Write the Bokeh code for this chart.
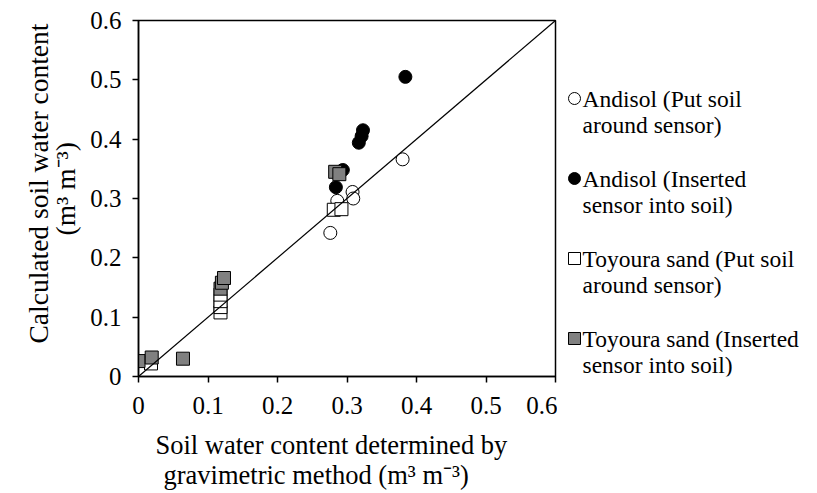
from bokeh.plotting import figure
from bokeh.layouts import row
from bokeh.models import Range1d, FixedTicker, Slope, Title
from bokeh.core.properties import value
from bokeh.embed import file_html
from bokeh.resources import INLINE

# Andisol (Put soil around sensor)
and_put_x = [0.276, 0.284, 0.286, 0.308, 0.309, 0.380]
and_put_y = [0.242, 0.285, 0.296, 0.311, 0.300, 0.366]
# Andisol (Inserted sensor into soil)
and_ins_x = [0.284, 0.294, 0.317, 0.321, 0.323, 0.384]
and_ins_y = [0.319, 0.348, 0.394, 0.405, 0.415, 0.505]
# Toyoura sand (Put soil around sensor)
toy_put_x = [0.018, 0.118, 0.118, 0.118, 0.118, 0.281, 0.292]
toy_put_y = [0.022, 0.108, 0.117, 0.127, 0.138, 0.281, 0.282]
# Toyoura sand (Inserted sensor into soil)
toy_ins_x = [0.000, 0.019, 0.064, 0.118, 0.120, 0.123, 0.283, 0.289]
toy_ins_y = [0.026, 0.032, 0.030, 0.148, 0.158, 0.166, 0.345, 0.341]

ticks = [0, 0.1, 0.2, 0.3, 0.4, 0.5, 0.6]
tick_labels = {0: "0", 0.1: "0.1", 0.2: "0.2", 0.3: "0.3", 0.4: "0.4", 0.5: "0.5", 0.6: "0.6"}

x_label_lines = ["Soil water content determined by", "gravimetric method (m\u00b3 m\u207b\u00b3)"]
y_label_lines = ["Calculated soil water content", "(m\u00b3 m\u207b\u00b3)"]

legend_line1 = ["Andisol (Put soil", "Andisol (Inserted",
                "Toyoura sand (Put soil", "Toyoura sand (Inserted"]
legend_line2 = ["around sensor)", "sensor into soil)",
                "around sensor)", "sensor into soil)"]

FONT = "Liberation Serif"
H = 490
TOP = 20
FH = 356
LEFT = 138
FW = 417
MAIN_W = LEFT + FW + 2
LEG_W = 801 - MAIN_W

p = figure(width=MAIN_W, height=H, output_backend="svg", toolbar_location=None,
           x_range=Range1d(0, 0.6), y_range=Range1d(0, 0.6),
           frame_width=FW, frame_height=FH,
           min_border_left=LEFT, min_border_top=TOP, min_border_right=2,
           min_border_bottom=H - TOP - FH)
p.background_fill_color = "white"
p.border_fill_color = "white"
p.outline_line_color = "black"
p.outline_line_width = 1.5
p.grid.visible = False

for ax in (p.xaxis[0], p.yaxis[0]):
    ax.ticker = FixedTicker(ticks=ticks)
    ax.major_label_overrides = tick_labels
    ax.minor_tick_line_color = None
    ax.major_tick_in = 0
    ax.major_tick_out = 6
    ax.axis_line_width = 1.5
    ax.major_tick_line_width = 1.5
    ax.major_label_text_font = FONT
    ax.major_label_text_font_size = "25px"
    ax.major_label_text_color = "black"

p.xaxis.major_label_standoff = 14
p.yaxis.major_label_standoff = 11

x_style = dict(text_font=FONT, text_font_size="26.5px", text_color="black",
               text_font_style="normal", align="left")
y_style = dict(text_font=FONT, text_font_size="27.5px", text_color="black",
               text_font_style="normal", align="left", vertical_align="middle")
# axis titles (as Title objects so their position along the axis can be set)
p.add_layout(Title(text=x_label_lines[0], offset=17, standoff=22, **x_style), "below")
p.add_layout(Title(text=x_label_lines[1], offset=25, standoff=-39, **x_style), "below")
p.add_layout(Title(text=y_label_lines[1], offset=141, standoff=12, **y_style), "left")
p.add_layout(Title(text=y_label_lines[0], offset=33, standoff=-24, **y_style), "left")

p.add_layout(Slope(gradient=1, y_intercept=0, line_color="black", line_width=1.2))

p.scatter(and_put_x, and_put_y, marker="circle", size=13, fill_color="white",
          line_color="black", line_width=1)
p.scatter(and_ins_x, and_ins_y, marker="circle", size=13, fill_color="black",
          line_color="black", line_width=1)
p.scatter(toy_put_x, toy_put_y, marker="square", size=13, fill_color="white",
          line_color="black", line_width=1)
p.scatter(toy_ins_x, toy_ins_y, marker="square", size=13, fill_color="#808080",
          line_color="black", line_width=1)

# legend panel: pixel coordinates aligned with the page (y downward)
lg = figure(width=LEG_W, height=H, output_backend="svg", toolbar_location=None,
            x_range=Range1d(MAIN_W, MAIN_W + LEG_W), y_range=Range1d(TOP + FH, TOP),
            frame_width=LEG_W, frame_height=FH,
            min_border_left=0, min_border_right=0, min_border_top=TOP,
            min_border_bottom=H - TOP - FH)
lg.axis.visible = False
lg.grid.visible = False
lg.outline_line_color = None
lg.background_fill_color = "white"
lg.border_fill_color = "white"

row_y = [98, 178, 258, 338]
mk_x = [574] * 4
txt_x = [582] * 4
line_gap = 26
markers = ["circle", "circle", "square", "square"]
fills = ["white", "black", "white", "#808080"]
for i in range(4):
    lg.scatter([mk_x[i]], [row_y[i]], marker=markers[i], size=12,
               fill_color=fills[i], line_color="black", line_width=1)
lg.text(x=txt_x, y=row_y, text=legend_line1, text_font=value(FONT),
        text_font_size="23.5px", text_baseline="middle", text_align="left",
        text_color="black")
lg.text(x=txt_x, y=[y + line_gap for y in row_y], text=legend_line2, text_font=value(FONT),
        text_font_size="23.5px", text_baseline="middle", text_align="left",
        text_color="black")

layout = row(p, lg)
open("out.html", "w").write(file_html(layout, INLINE))
